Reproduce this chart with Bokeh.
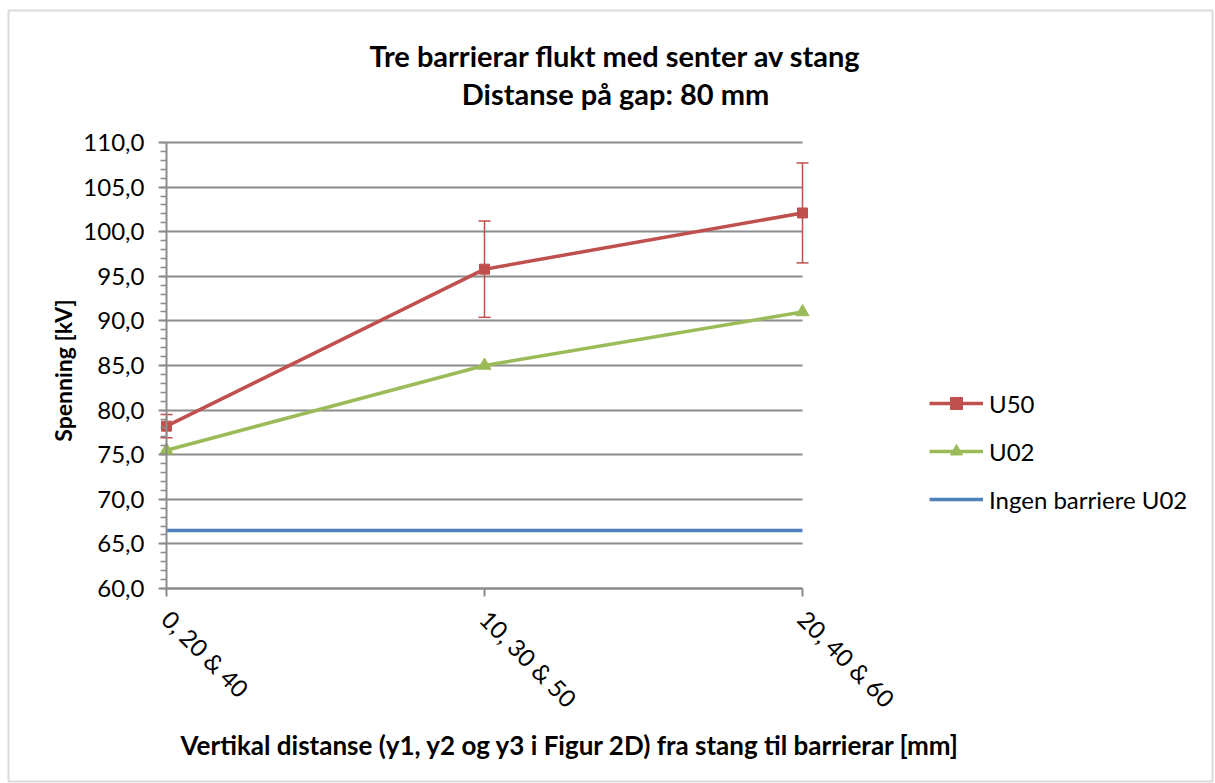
import math
from bokeh.plotting import figure
from bokeh.models import (ColumnDataSource, FixedTicker, Whisker, TeeHead, Legend,
                          LegendItem, Label, BoxAnnotation, Range1d, Grid)
from bokeh.embed import file_html
from bokeh.resources import INLINE

categories = ["0, 20 & 40", "10, 30 & 50", "20, 40 & 60"]
u50 = [78.2, 95.8, 102.1]
u50_err = [1.3, 5.4, 5.6]
u02 = [75.5, 85.0, 91.0]
ingen_u02 = [66.5, 66.5, 66.5]
y_ticks = [60, 65, 70, 75, 80, 85, 90, 95, 100, 105, 110]

title_lines = ["Tre barrierar flukt med senter av stang", "Distanse på gap: 80 mm"]
x_title = "Vertikal distanse (y1, y2 og y3 i Figur 2D) fra stang til barrierar [mm]"
y_title = "Spenning [kV]"

FONT = "Lato"
RED = "#C0504D"
GREEN = "#9BBB59"
BLUE = "#4F81BD"
GRID = "#8c8c8c"

# canvas and plot-area geometry (pixels)
W, H = 1215, 783
PL, PR, PT, PB = 166, 802, 142, 588

xs = list(range(len(categories)))
ymin, ymax = y_ticks[0], y_ticks[-1]
xmin, xmax = xs[0], xs[-1]
xscale = (PR - PL) / (xmax - xmin)
yscale = (PB - PT) / (ymax - ymin)

src = ColumnDataSource(dict(
    x=xs, u50=u50, u02=u02, ingen=ingen_u02,
    upper=[v + e for v, e in zip(u50, u50_err)],
    lower=[v - e for v, e in zip(u50, u50_err)],
))

p = figure(width=W, height=H, output_backend="svg", toolbar_location=None,
           title_location=None,
           x_range=Range1d(xmin - PL / xscale, xmax + (W - PR) / xscale),
           y_range=Range1d(ymin - (H - PB) / yscale, ymax + PT / yscale),
           min_border=0, min_border_left=0, min_border_right=0,
           min_border_top=0, min_border_bottom=0)
p.outline_line_color = None
p.background_fill_color = "white"
p.border_fill_color = "white"

# y axis
ya = p.yaxis[0]
ya.fixed_location = xmin
ya.bounds = (ymin, ymax)
ya.ticker = FixedTicker(ticks=y_ticks, minor_ticks=list(range(ymin, ymax + 1)))
ya.major_label_overrides = {t: f"{t:.1f}".replace(".", ",") for t in y_ticks}
ya.major_label_text_font = FONT
ya.major_label_text_font_size = "24px"
ya.major_label_text_color = "black"
ya.major_label_standoff = 14
ya.axis_line_color = GRID
ya.axis_line_width = 2
ya.major_tick_line_color = GRID
ya.major_tick_line_width = 2
ya.major_tick_in = 0
ya.major_tick_out = 8
ya.minor_tick_line_color = GRID
ya.minor_tick_line_width = 1.5
ya.minor_tick_in = 0
ya.minor_tick_out = 6

# x axis
xa = p.xaxis[0]
xa.fixed_location = ymin
xa.bounds = (xmin, xmax)
xa.ticker = FixedTicker(ticks=xs)
xa.major_label_overrides = {i: c for i, c in enumerate(categories)}
xa.major_label_orientation = -math.pi / 4
xa.major_label_text_font = FONT
xa.major_label_text_font_size = "24px"
xa.major_label_text_color = "black"
xa.major_label_standoff = 18
xa.axis_line_color = GRID
xa.axis_line_width = 2
xa.major_tick_line_color = GRID
xa.major_tick_line_width = 2
xa.major_tick_in = 0
xa.major_tick_out = 8
xa.minor_tick_line_color = None

# horizontal gridlines limited to the plot area
p.xgrid.grid_line_color = None
yg = p.ygrid[0]
yg.ticker = FixedTicker(ticks=y_ticks)
yg.bounds = (ymin, ymax)
if "cross_bounds" in Grid.properties():
    yg.cross_bounds = (xmin, xmax)
    yg.grid_line_color = GRID
    yg.grid_line_width = 2
else:
    yg.grid_line_color = None
    p.segment(x0=[xmin] * len(y_ticks), x1=[xmax] * len(y_ticks), y0=y_ticks, y1=y_ticks,
              line_color=GRID, line_width=2)

# data
r_blue = p.line("x", "ingen", source=src, line_color=BLUE, line_width=3.5)
r_green = p.line("x", "u02", source=src, line_color=GREEN, line_width=3.5)
r_green_m = p.scatter("x", "u02", source=src, marker="triangle", size=13,
                      fill_color=GREEN, line_color=GREEN)
r_red = p.line("x", "u50", source=src, line_color=RED, line_width=3.5)
r_red_m = p.scatter("x", "u50", source=src, marker="square", size=10,
                    fill_color=RED, line_color=RED)
wh = Whisker(source=src, base="x", upper="upper", lower="lower",
             line_color=RED, line_width=1.5,
             upper_head=TeeHead(size=12, line_color=RED, line_width=1.5),
             lower_head=TeeHead(size=12, line_color=RED, line_width=1.5))
p.add_layout(wh)

# legend
ITEM_H, GAP = 30, 18
n_items = 3
legend_h = n_items * ITEM_H + (n_items - 1) * GAP
legend_top = 388
legend = Legend(items=[
    LegendItem(label="U50", renderers=[r_red, r_red_m]),
    LegendItem(label="U02", renderers=[r_green, r_green_m]),
    LegendItem(label="Ingen barriere U02", renderers=[r_blue]),
], location=(929, H - legend_top - legend_h), orientation="vertical")
legend.glyph_width = 54
legend.glyph_height = ITEM_H
legend.label_height = ITEM_H
legend.label_standoff = 6
legend.spacing = GAP
legend.padding = 0
legend.margin = 0
legend.border_line_color = None
legend.background_fill_alpha = 0
legend.label_text_font = FONT
legend.label_text_font_size = "24px"
legend.label_text_color = "black"
legend.label_text_baseline = "middle"
p.add_layout(legend)

# texts
def add_label(text, cx, cy, size, angle=0.0):
    p.add_layout(Label(x=cx, y=H - cy, x_units="screen", y_units="screen",
                       text=text, text_align="center", text_baseline="middle",
                       angle=angle, text_font=FONT, text_font_style="bold",
                       text_font_size=size, text_color="black"))

add_label(title_lines[0], 615, 55, "29px")
add_label(title_lines[1], 615, 93, "29px")
add_label(x_title, 570, 744, "26px")
add_label(y_title, 62, 370, "23px", angle=math.pi / 2)

# outer chart border
p.add_layout(BoxAnnotation(left=8, right=1212, top=H - 10, bottom=H - 781,
                           left_units="screen", right_units="screen",
                           top_units="screen", bottom_units="screen",
                           fill_alpha=0, line_color="#868686", line_width=2))

open("out.html", "w").write(file_html(p, INLINE))
